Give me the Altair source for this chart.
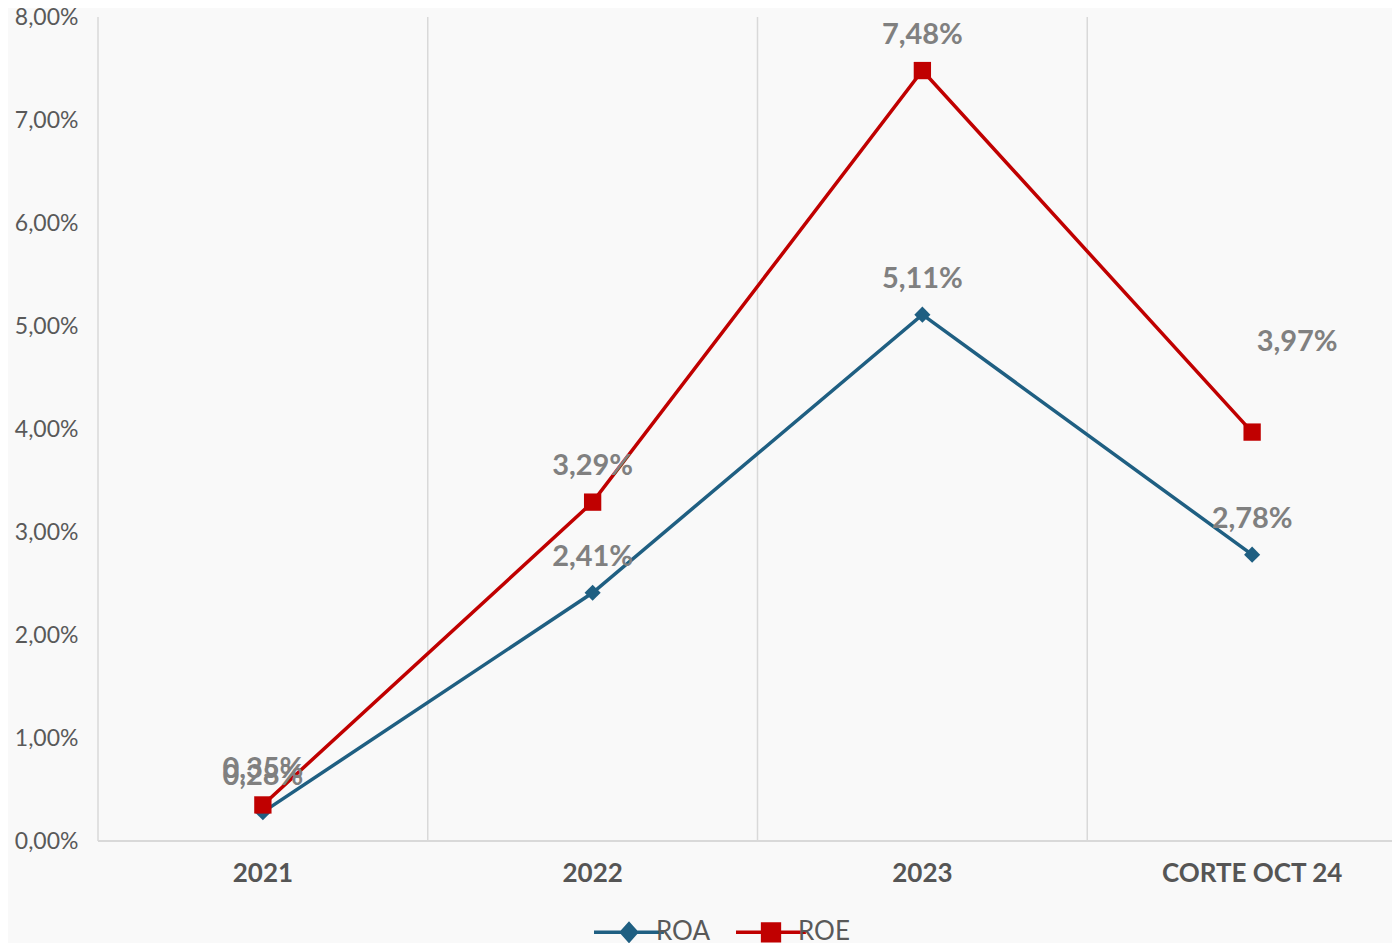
import altair as alt
import pandas as pd

categories = ["2021", "2022", "2023", "CORTE OCT 24"]
series = ["ROA", "ROE"]
roa = [0.28, 2.41, 5.11, 2.78]
roe = [0.35, 3.29, 7.48, 3.97]
colors = ["#1F5F82", "#C00000"]
y_ticks = [0, 1, 2, 3, 4, 5, 6, 7, 8]

rows = []
for s, vals in zip(series, [roa, roe]):
    for c, v in zip(categories, vals):
        rows.append({"cat": c, "serie": s, "value": v})
df = pd.DataFrame(rows)
cats_df = pd.DataFrame({"cat": categories})

W = 1294
H = 824
BAND_RANGE = 1319
FONT = "Lato"
GRAY = "#595959"

# legend symbols (unit = 30px): line that runs into the label + filled marker
DIAMOND_SYM = ("M-1,0L1.33,0"
               "M0.167,-0.28L0.417,0L0.167,0.28L-0.083,0Z"
               "M0.167,-0.19L0.33,0L0.167,0.19L0.0,0Z"
               "M0.167,-0.1L0.25,0L0.167,0.1L0.083,0Z")
SQUARE_SYM = ("M-1,0L1.33,0"
              "M-0.113,-0.28L0.447,-0.28L0.447,0.28L-0.113,0.28Z"
              "M-0.02,-0.19L0.354,-0.19L0.354,0.19L-0.02,0.19Z"
              "M0.07,-0.1L0.264,-0.1L0.264,0.1L0.07,0.1Z"
              "M0.147,-0.02L0.187,-0.02L0.187,0.02L0.147,0.02Z")

xscale = alt.Scale(type="band", domain=categories, range=[0, BAND_RANGE],
                   paddingInner=0, paddingOuter=0)
x_axis = alt.Axis(title=None, grid=False, domain=False, ticks=False, labelAngle=0,
                  labelFont=FONT, labelFontSize=26, labelFontWeight="bold",
                  labelColor="#555555", labelPadding=19, labelLimit=500)
yscale = alt.Scale(domain=[0, 8], nice=False, zero=True)
y_axis = alt.Axis(title=None, values=y_ticks, grid=False, domain=False, ticks=False,
                  labelExpr="replace(format(datum.value, '.2f'), '.', ',') + '%'",
                  labelFont=FONT, labelFontSize=23, labelColor=GRAY, labelPadding=20)

X = alt.X("cat:N", sort=categories, scale=xscale, axis=x_axis, bandPosition=0.5)
Y = alt.Y("value:Q", scale=yscale, axis=y_axis)

legend = alt.Legend(
    title=None, orient="none", legendX=494, legendY=883, direction="horizontal",
    labelFont=FONT, labelFontSize=26, labelColor=GRAY, labelOffset=0,
    columnPadding=18, symbolSize=3600, symbolStrokeWidth=3.5, symbolOpacity=1,
)
color = alt.Color("serie:N", scale=alt.Scale(domain=series, range=colors), legend=legend)
shape = alt.Shape("serie:N", scale=alt.Scale(domain=series, range=[DIAMOND_SYM, SQUARE_SYM]),
                  legend=legend)

grid = alt.Chart(cats_df).mark_rule(color="#d9d9d9", strokeWidth=1.5).encode(
    x=alt.X("cat:N", sort=categories, scale=xscale, axis=x_axis, bandPosition=0),
    y=alt.value(0), y2=alt.value(H),
)
base = alt.Chart(df).mark_rule(color="#d9d9d9", strokeWidth=1.5).encode(
    y=alt.datum(0, scale=yscale), x=alt.value(0), x2=alt.value(W),
)
lines = alt.Chart(df).mark_line(strokeWidth=3.5).encode(x=X, y=Y, color=color, detail="serie:N")
pts_roa = alt.Chart(df).transform_filter("datum.serie === 'ROA'").mark_point(
    filled=True, size=260, opacity=1, shape="diamond").encode(x=X, y=Y, color=color)
pts_roe = alt.Chart(df).transform_filter("datum.serie === 'ROE'").mark_point(
    filled=True, size=300, opacity=1, shape="square").encode(x=X, y=Y, color=color)
legend_layer = alt.Chart(df).transform_filter("false").mark_point(
    filled=False, size=3600, strokeWidth=3.5, opacity=1).encode(
    x=X, y=Y, color=color, shape=shape)

label_calc = "replace(format(datum.value, '.2f'), '.', ',') + '%'"
special = "datum.serie === 'ROE' && datum.cat === 'CORTE OCT 24'"
texts = alt.Chart(df).transform_filter("!(" + special + ")").transform_calculate(
    lab=label_calc
).mark_text(font=FONT, fontSize=29, fontWeight="bold", color="#808080",
            baseline="middle", dy=-36).encode(x=X, y=Y, text="lab:N")
text_sp = alt.Chart(df).transform_filter(special).transform_calculate(
    lab=label_calc
).mark_text(font=FONT, fontSize=29, fontWeight="bold", color="#808080",
            baseline="middle", dx=45, dy=-90).encode(x=X, y=Y, text="lab:N")

chart = alt.layer(grid, base, lines, pts_roa, pts_roe, legend_layer, texts, text_sp).properties(
    width=W, height=H,
    autosize=alt.AutoSizeParams(type="none"),
    padding={"left": 90, "top": 9, "right": 0, "bottom": 102},
    background="#f9f9f9",
).configure_view(stroke=None)

chart.save("out.html", embed_options={"renderer": "svg", "actions": False})
